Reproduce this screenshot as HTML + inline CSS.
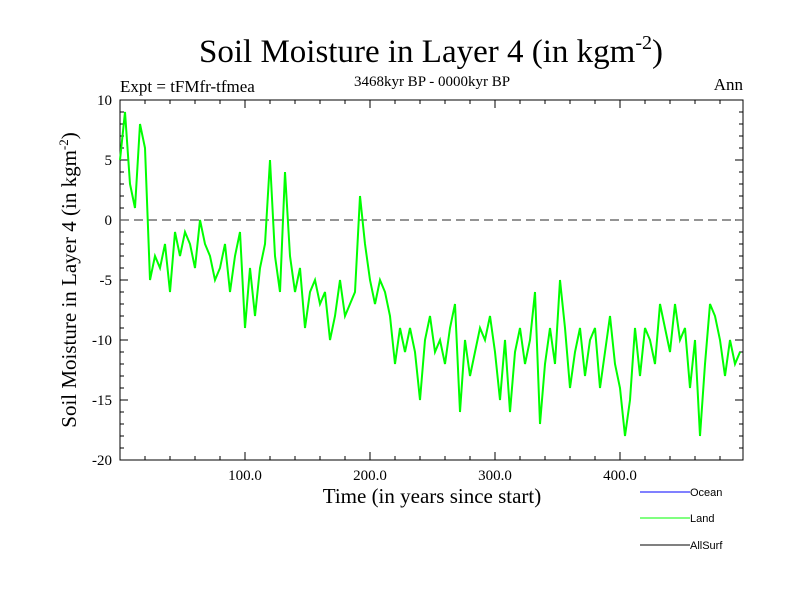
<!DOCTYPE html>
<html><head><meta charset="utf-8"><style>
body{margin:0;background:#fff}
svg{display:block}
text{font-family:"Liberation Serif",serif;fill:#000}
</style></head><body>
<svg id="chart" width="800" height="600">
<text x="431" y="62" font-size="33" text-anchor="middle">Soil Moisture in Layer 4 (in kgm<tspan dy="-13" font-size="20">-2</tspan><tspan dy="13">)</tspan></text>
<text x="120" y="92" font-size="17">Expt = tFMfr-tfmea</text>
<text x="432" y="86" font-size="15" text-anchor="middle">3468kyr BP - 0000kyr BP</text>
<text x="743" y="90" font-size="17" text-anchor="end">Ann</text>
<text transform="translate(76,280) rotate(-90)" font-size="21" text-anchor="middle">Soil Moisture in Layer 4 (in kgm<tspan dy="-8" font-size="13">-2</tspan><tspan dy="8">)</tspan></text>
<text x="432" y="503" font-size="21" text-anchor="middle">Time (in years since start)</text>
<g id="axes"></g>
<g id="series"></g>
<g>
<line x1="640" y1="492" x2="690" y2="492" stroke="#0000ff"/>
<text x="690" y="496" font-size="11" style="font-family:'Liberation Sans',sans-serif">Ocean</text>
<line x1="640" y1="518" x2="690" y2="518" stroke="#00ff00"/>
<text x="690" y="522" font-size="11" style="font-family:'Liberation Sans',sans-serif">Land</text>
<line x1="640" y1="545" x2="690" y2="545" stroke="#000"/>
<text x="690" y="549" font-size="11" style="font-family:'Liberation Sans',sans-serif">AllSurf</text>
</g>
</svg>
<script>
const years=[0,4,8,12,16,20,24,28,32,36,40,44,48,52,56,60,64,68,72,76,80,84,88,92,96,100,104,108,112,116,120,124,128,132,136,140,144,148,152,156,160,164,168,172,176,180,184,188,192,196,200,204,208,212,216,220,224,228,232,236,240,244,248,252,256,260,264,268,272,276,280,284,288,292,296,300,304,308,312,316,320,324,328,332,336,340,344,348,352,356,360,364,368,372,376,380,384,388,392,396,400,404,408,412,416,420,424,428,432,436,440,444,448,452,456,460,464,468,472,476,480,484,488,492,496];
const land=[5,9,3,1,8,6,-5,-3,-4,-2,-6,-1,-3,-1,-2,-4,0,-2,-3,-5,-4,-2,-6,-3,-1,-9,-4,-8,-4,-2,5,-3,-6,4,-3,-6,-4,-9,-6,-5,-7,-6,-10,-8,-5,-8,-7,-6,2,-2,-5,-7,-5,-6,-8,-12,-9,-11,-9,-11,-15,-10,-8,-11,-10,-12,-9,-7,-16,-10,-13,-11,-9,-10,-8,-11,-15,-10,-16,-11,-9,-12,-10,-6,-17,-12,-9,-12,-5,-9,-14,-11,-9,-13,-10,-9,-14,-11,-8,-12,-14,-18,-15,-9,-13,-9,-10,-12,-7,-9,-11,-7,-10,-9,-14,-10,-18,-12,-7,-8,-10,-13,-10,-12,-11];
const yTicks=[10,5,0,-5,-10,-15,-20];
const xTickLabels=[100,200,300,400];
const NS='http://www.w3.org/2000/svg';
const L=120,R=743,T=100,B=460,X0=0,X1=498.4,Y0=-20,Y1=10;
const sx=v=>L+(v-X0)/(X1-X0)*(R-L);
const sy=v=>B-(v-Y0)/(Y1-Y0)*(B-T);
const ax=document.getElementById('axes');
function mk(tag,attrs,parent){const e=document.createElementNS(NS,tag);for(const k in attrs)e.setAttribute(k,attrs[k]);parent.appendChild(e);return e;}
const frame=mk('rect',{x:L,y:T,width:R-L,height:B-T,fill:'none',stroke:'#000','stroke-width':1},ax);


for(let v=Y0;v<=Y1;v++){const len=v%5===0?8:4;const y=sy(v);
 const t1=mk('line',{x1:L,y1:y,x2:L+len,y2:y,stroke:'#000'},ax);
 
 
 const t2=mk('line',{x1:R,y1:y,x2:R-len,y2:y,stroke:'#000'},ax);
 
 }
for(let v=20;v<X1;v+=20){const len=v%100===0?8:4;const x=sx(v);
 const t1=mk('line',{x1:x,y1:B,x2:x,y2:B-len,stroke:'#000'},ax);
 
 
 const t2=mk('line',{x1:x,y1:T,x2:x,y2:T+len,stroke:'#000'},ax);
 
 }
yTicks.forEach(v=>{const t=mk('text',{x:L-8,y:sy(v)+5,'font-size':15,'text-anchor':'end'},ax);t.textContent=v;
 
 });
xTickLabels.forEach(v=>{const t=mk('text',{x:sx(v),y:B+20,'font-size':15,'text-anchor':'middle'},ax);t.textContent=v.toFixed(1);
 
 });
const zl=mk('line',{x1:L,y1:sy(0),x2:R,y2:sy(0),stroke:'#555','stroke-dasharray':'9,5','stroke-width':1.2},ax);


const sg=document.getElementById('series');
const p=mk('polyline',{points:years.map((y,i)=>sx(y)+','+sy(land[i])).join(' '),fill:'none',stroke:'#00ff00','stroke-width':2},sg);


</script>
</body></html>
